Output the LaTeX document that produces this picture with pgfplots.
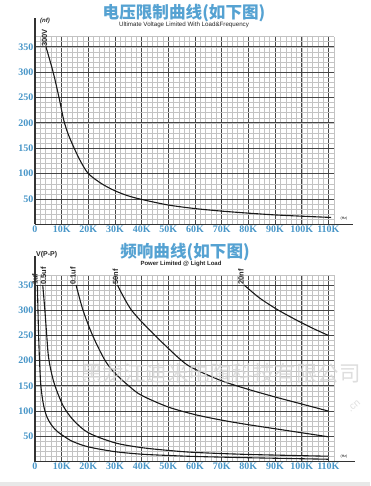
\documentclass[border=0pt]{standalone}
\usepackage{pgfplots}
\pgfplotsset{compat=1.18}
\usepackage{fontspec}
\setmainfont{Liberation Serif}
\setsansfont{Liberation Sans}
\newfontfamily\cjk{Noto Sans CJK SC}
\definecolor{tickblue}{RGB}{72,150,200}
\definecolor{titleblue}{RGB}{85,162,210}
\definecolor{majgrid}{RGB}{70,70,70}
\definecolor{mingrid}{RGB}{195,195,195}
\tikzset{
  curve/.style={black!90, line width=1.1pt, smooth, tension=0.5, mark=none},
  curvelab/.style={rotate=90, anchor=west, inner sep=0pt,
    font=\sffamily\bfseries\fontsize{7.5}{7.5}\selectfont, text=black!85},
}
\pgfplotsset{
  dmstyle/.style={
    scale only axis, width=298.7pt,
    xmin=0, xmax=112, ymin=0, ymax=370,
    axis x line*=bottom, axis y line*=left,
    axis line style={line width=1.1pt, color=black!80, -},
    xtick={0,10,...,110},
    xticklabels={0,10K,20K,30K,40K,50K,60K,70K,80K,90K,100K,110K},
    ytick={50,100,...,350},
    yticklabels={50,100,150,200,250,300,350},
    minor xtick={0,2,...,112},
    minor ytick={0,10,...,370},
    grid=both,
    major grid style={majgrid, line width=0.8pt},
    minor grid style={mingrid, line width=0.4pt},
    major tick length=0pt, minor tick length=0pt,
    /pgf/number format/assume math mode=true,
    tick label style={font=\bfseries\fontsize{10}{10}\selectfont, text=tickblue},
    xticklabel style={inner sep=1.5pt},
    yticklabel style={inner sep=1.5pt},
    clip=false,
  },
}
\begin{document}
\begin{tikzpicture}
\fill[white] (0,0) rectangle (370pt,-486pt);
\path[use as bounding box] (0,0) rectangle (370pt,-486pt);
\fill[black!9] (0,-482pt) rectangle (370pt,-486pt);

% ---------- top chart ----------
\begin{axis}[dmstyle, height=187.7pt, at={(35pt,-224.3pt)}, anchor=south west]
\addplot[curve] coordinates {
(4.1,350) (6.8,300) (9.0,250) (10.8,205) (12.5,177) (14.7,150) (17,125)
(20,100) (25,80) (30,66) (35,56) (40,49) (50,38) (60,31) (70,26)
(80,22) (90,18.5) (100,16) (111,13.5)};
\node[curvelab] at (axis cs:4.1,350) [yshift=1.5pt] {300V};
\draw[line width=1.1pt, black!80] (rel axis cs:0,1) -- ++(0,18.5pt);
\draw[line width=1.1pt, black!80] (rel axis cs:1,0) -- ++(19.5pt,0);
\end{axis}

% ---------- bottom chart ----------
\begin{axis}[dmstyle, height=186.6pt, at={(35pt,-461.5pt)}, anchor=south west]
% 1uf
\addplot[curve] coordinates {
(0.9,350) (1.3,260) (1.7,200) (2.2,150) (3.2,112) (4.5,88) (6.5,70)
(8.5,59) (10.6,51) (14,40) (20,29) (30,19.5) (40,14.5) (50,12) (60,10)
(80,7.5) (110,4.5)};
% 0.5uf
\addplot[curve] coordinates {
(2.9,350) (3.7,300) (4.4,250) (5.0,210) (6.0,180) (7.5,150) (10.6,110)
(14.4,82) (20,57) (30,37) (40,27.5) (50,22) (60,18) (80,14) (110,10.5)};
% 0.1uf
\addplot[curve] coordinates {
(15.4,350) (18,300) (21.6,250) (26.2,201) (30,175) (35.6,148) (40,131)
(50,108) (60,93) (70,82) (80,73) (90,65) (100,57) (110,49)};
% 50nf
\addplot[curve] coordinates {
(30.9,350) (36.2,300) (45,250) (55,200) (60,183) (70,160) (80,143)
(90,128) (100,114) (110,100)};
% 20nf
\addplot[curve] coordinates {
(78.4,350) (84,325) (90,304) (95,289) (100,275) (105,262) (110,250)};
\node[curvelab] at (axis cs:0.9,350) [yshift=2.5pt] {1uf};
\node[curvelab] at (axis cs:4.1,350) [yshift=2.5pt] {0.5uf};
\node[curvelab] at (axis cs:15.2,350) [yshift=2.5pt] {0.1uf};
\node[curvelab] at (axis cs:31.1,350) [yshift=2.5pt] {50nf};
\node[curvelab] at (axis cs:78.2,350) [yshift=2.5pt] {20nf};
\draw[line width=1.1pt, black!80] (rel axis cs:0,1) -- ++(0,18.5pt);
\draw[line width=1.1pt, black!80] (rel axis cs:1,0) -- ++(21pt,0);
\end{axis}

% ---------- texts ----------
\node[font=\cjk\bfseries\fontsize{16.6}{16.6}\selectfont, text=titleblue] at (184pt,-13.3pt) {电压限制曲线(如下图)};
\node[font=\sffamily\fontsize{6.2}{6.2}\selectfont, text=black!85] at (184pt,-25pt) {Ultimate Voltage Limited With Load\&Frequency};
\node[font=\sffamily\bfseries\itshape\fontsize{6}{6}\selectfont, text=black!85] at (45pt,-20.7pt) {(nf)};
\node[font=\sffamily\fontsize{3.5}{3.5}\selectfont] at (344pt,-219pt) {(Hz)};

\node[font=\cjk\bfseries\fontsize{16.6}{16.6}\selectfont, text=titleblue] at (185pt,-251.7pt) {频响曲线(如下图)};
\node[font=\sffamily\bfseries\fontsize{6}{6}\selectfont, text=black!85] at (181pt,-264pt) {Power Limited @ Light Load};
\node[anchor=west, inner sep=0pt, font=\sffamily\bfseries\fontsize{7}{7}\selectfont, text=black!85] at (36pt,-255pt) {V(P-P)};
\node[font=\sffamily\fontsize{3.5}{3.5}\selectfont] at (344pt,-456.5pt) {(Hz)};

% watermark
\node[font=\cjk\fontsize{21.5}{21.5}\selectfont, text=black!16, opacity=0.8] at (221pt,-373pt) {黑龙江迪米电陶科技有限公司};
\node[rotate=40, inner sep=0pt, font=\sffamily\fontsize{10}{10}\selectfont, text=black!12] at (354pt,-406pt) {.cn};
\end{tikzpicture}
\end{document}
